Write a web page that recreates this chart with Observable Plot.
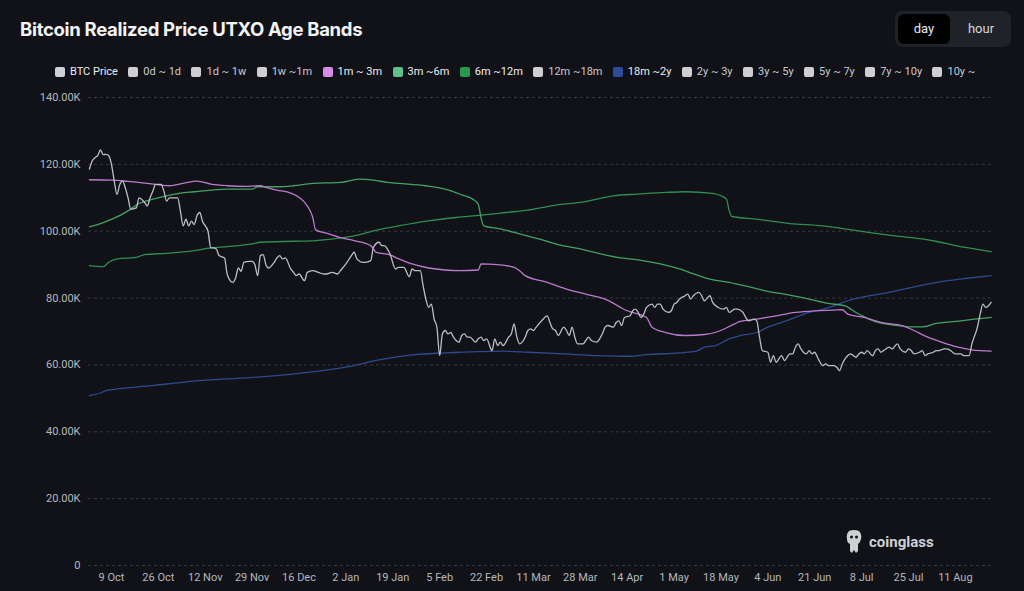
<!DOCTYPE html>
<html><head><meta charset="utf-8">
<script src="https://cdn.jsdelivr.net/npm/d3@7"></script>
<script src="https://cdn.jsdelivr.net/npm/@observablehq/plot@0.6"></script>
<style>
html,body{margin:0;padding:0;background:#101218;width:1024px;height:591px;overflow:hidden;font-family:Roboto,"Noto Sans",sans-serif;}
#wrap{position:relative;width:1024px;height:591px;}
#title{position:absolute;left:20px;top:18px;font:700 18.5px Inter,sans-serif;color:#f2f3f5;letter-spacing:-0.3px;white-space:nowrap}
#toggle{position:absolute;left:895px;top:11px;width:116px;height:36px;background:#1f2229;border-radius:8px}
#toggle .on{position:absolute;left:3px;top:3px;width:52px;height:30px;background:#000;border-radius:6px;color:#e9eaec;font:13px Roboto,sans-serif;line-height:30px;text-align:center}
#toggle .off{position:absolute;left:58px;top:3px;width:56px;height:30px;color:#d3d5d9;font:13px Roboto,sans-serif;line-height:30px;text-align:center}
#legend{position:absolute;left:55px;top:65px;display:flex;align-items:center;gap:10.4px;font:11px Roboto,sans-serif;white-space:nowrap}
#legend .it{display:flex;align-items:center}
#legend .sw{width:10px;height:10px;border-radius:2px;margin-right:5px}
#chart{position:absolute;left:0;top:85px}
#wm{position:absolute;left:845px;top:529px;display:flex;align-items:center;gap:6px;color:#cfd0d4;font:700 15px Roboto,sans-serif}
</style></head>
<body><div id="wrap">
<div id="title">Bitcoin Realized Price UTXO Age Bands</div>
<div id="toggle"><div class="on">day</div><div class="off">hour</div></div>
<div id="legend"></div>
<div id="chart"></div>
<div id="wm"><svg width="18" height="26" viewBox="0 0 18 26"><path d="M4 2 Q9 0 14 2 Q17 5 16 10 Q15 14 13 15 L13 22 L11 24 L9 21 L7 24 L5 22 L5 15 Q2 14 2 10 Q1 5 4 2 Z" fill="#cfd0d4"/><circle cx="6.5" cy="8" r="1.5" fill="#101218"/><circle cx="11.5" cy="8" r="1.5" fill="#101218"/></svg><span>coinglass</span></div>
</div>
<script>
// ---- legend ----
const legendNames = ["BTC Price","0d ~ 1d","1d ~ 1w","1w ~1m","1m ~ 3m","3m ~6m","6m ~12m","12m ~18m","18m ~2y","2y ~ 3y","3y ~ 5y","5y ~ 7y","7y ~ 10y","10y ~"];
const legendColors = ["#cdd0d6","#cfcfd2","#cfcfd2","#cfcfd2","#d58be8","#5ec18e","#25994f","#cfcfd2","#2c4c9c","#cfcfd2","#cfcfd2","#cfcfd2","#cfcfd2","#cfcfd2"];
const legendActive = [true,false,false,false,true,true,true,false,true,false,false,false,false,false];

// ---- axis ticks ----
const xTickDates = ["2025-10-09","2025-10-26","2025-11-12","2025-11-29","2025-12-16","2026-01-02","2026-01-19","2026-02-05","2026-02-22","2026-03-11","2026-03-28","2026-04-14","2026-05-01","2026-05-18","2026-06-04","2026-06-21","2026-07-08","2026-07-25","2026-08-11"];
const yTicks = [0,20,40,60,80,100,120,140]; // thousands USD

// ---- series (values in thousands USD) ----
const btcPrice = [
["2025-10-01",118.6],["2025-10-02",121.0],["2025-10-03",122.0],["2025-10-04",122.6],["2025-10-05",124.3],["2025-10-06",122.9],["2025-10-07",123.0],["2025-10-08",122.6],["2025-10-09",120.0],["2025-10-10",115],["2025-10-11",111],["2025-10-12",114],["2025-10-13",115],["2025-10-14",113],["2025-10-15",110],["2025-10-16",106.6],["2025-10-18",107],["2025-10-19",110],["2025-10-21",108.6],["2025-10-22",107.6],["2025-10-23",110],["2025-10-24",112],["2025-10-25",114],["2025-10-27",114],["2025-10-28",112],["2025-10-29",109],["2025-10-30",110],
["2025-11-01",110],["2025-11-02",110],["2025-11-03",106],["2025-11-04",101.6],["2025-11-05",103.6],["2025-11-06",101.6],["2025-11-07",103],["2025-11-08",102],["2025-11-09",104.6],["2025-11-10",105.6],["2025-11-11",103],["2025-11-13",100],["2025-11-14",95],["2025-11-15",95],["2025-11-16",94.7],["2025-11-17",92.7],["2025-11-19",92],["2025-11-20",87],["2025-11-22",84.7],["2025-11-23",86],["2025-11-24",89],["2025-11-25",88],["2025-11-26",90.7],["2025-11-28",91],["2025-11-29",91],["2025-11-30",90],
["2025-12-01",86.7],["2025-12-02",92.7],["2025-12-03",93],["2025-12-04",90],["2025-12-05",89],["2025-12-07",90.7],["2025-12-08",92],["2025-12-09",92.7],["2025-12-10",91.7],["2025-12-11",92],["2025-12-13",88.7],["2025-12-14",87.7],["2025-12-15",86.7],["2025-12-16",87.2],["2025-12-18",85.2],["2025-12-19",87.7],["2025-12-21",88.2],["2025-12-23",87.7],["2025-12-25",87.2],["2025-12-26",87.2],["2025-12-28",87.7],["2025-12-30",87.2],["2025-12-31",88.2],
["2026-01-02",90.2],["2026-01-04",92.7],["2026-01-05",93.7],["2026-01-06",91.7],["2026-01-08",90.7],["2026-01-09",90.7],["2026-01-11",91.2],["2026-01-12",95.2],["2026-01-14",96.7],["2026-01-15",95.7],["2026-01-16",95.7],["2026-01-17",94.7],["2026-01-18",93.2],["2026-01-20",88.7],["2026-01-21",89.2],["2026-01-23",89.2],["2026-01-25",86.4],["2026-01-26",88.7],["2026-01-27",88.2],["2026-01-29",88.2],["2026-01-30",83.7],["2026-01-31",79.7],
["2026-02-01",77.2],["2026-02-02",78.2],["2026-02-03",73.7],["2026-02-04",71.3],["2026-02-05",62.8],["2026-02-06",69.3],["2026-02-07",70.3],["2026-02-08",69.3],["2026-02-09",69.7],["2026-02-10",68.3],["2026-02-12",66.8],["2026-02-13",68.8],["2026-02-14",69.3],["2026-02-15",68.3],["2026-02-16",68.3],["2026-02-18",66.8],["2026-02-19",67.8],["2026-02-20",68.3],["2026-02-21",67.3],["2026-02-22",67.8],["2026-02-24",64.3],["2026-02-25",67.8],["2026-02-26",65.8],["2026-02-27",66.8],["2026-02-28",65.8],
["2026-03-02",68.3],["2026-03-03",69.3],["2026-03-04",72.3],["2026-03-05",68.3],["2026-03-06",66.3],["2026-03-08",68.3],["2026-03-09",70.3],["2026-03-10",70.8],["2026-03-11",70.3],["2026-03-12",71.3],["2026-03-14",73.2],["2026-03-16",74.7],["2026-03-17",72.7],["2026-03-18",70.8],["2026-03-19",70.3],["2026-03-20",68.8],["2026-03-22",71.3],["2026-03-23",70.3],["2026-03-24",68.8],["2026-03-25",71.3],["2026-03-26",68.3],["2026-03-27",66.3],["2026-03-29",66.3],["2026-03-30",67.3],["2026-03-31",68.3],
["2026-04-01",67.3],["2026-04-03",66.8],["2026-04-04",67.8],["2026-04-05",69.3],["2026-04-06",71.3],["2026-04-07",71.8],["2026-04-09",71.3],["2026-04-10",72.7],["2026-04-11",73.2],["2026-04-12",71.8],["2026-04-13",74.2],["2026-04-15",74.7],["2026-04-16",76.2],["2026-04-17",76.7],["2026-04-18",75.7],["2026-04-19",74.2],["2026-04-20",75.2],["2026-04-21",77.2],["2026-04-23",78.2],["2026-04-24",77.2],["2026-04-25",78.2],["2026-04-26",78.2],["2026-04-27",76.7],["2026-04-29",75.7],["2026-04-30",76.2],
["2026-05-01",78.2],["2026-05-02",78.7],["2026-05-03",79.7],["2026-05-05",80.7],["2026-05-06",81.2],["2026-05-07",79.7],["2026-05-08",80.7],["2026-05-10",81.7],["2026-05-11",80.7],["2026-05-12",79.2],["2026-05-14",80.7],["2026-05-15",78.7],["2026-05-17",77.2],["2026-05-19",76.7],["2026-05-20",77.2],["2026-05-21",75.7],["2026-05-23",76.7],["2026-05-24",76.7],["2026-05-26",75.7],["2026-05-27",74.2],["2026-05-28",73.2],["2026-05-30",73.7],["2026-05-31",73.2],
["2026-06-01",68.3],["2026-06-02",64.3],["2026-06-04",63.8],["2026-06-05",60.8],["2026-06-06",62.8],["2026-06-07",60.8],["2026-06-09",62.8],["2026-06-10",61.3],["2026-06-12",63.3],["2026-06-13",63.3],["2026-06-14",65.3],["2026-06-15",66.3],["2026-06-16",64.8],["2026-06-18",63.3],["2026-06-19",64.3],["2026-06-20",63.3],["2026-06-21",63.8],["2026-06-22",62.3],["2026-06-24",59.8],["2026-06-25",60.3],["2026-06-26",59.8],["2026-06-28",59.8],["2026-06-29",59.3],["2026-06-30",58.3],
["2026-07-01",60.3],["2026-07-02",61.8],["2026-07-03",62.8],["2026-07-04",63.3],["2026-07-06",62.3],["2026-07-07",63.3],["2026-07-08",63.8],["2026-07-09",63.3],["2026-07-10",64.3],["2026-07-12",62.8],["2026-07-13",64.3],["2026-07-14",64.8],["2026-07-15",63.8],["2026-07-16",64.3],["2026-07-18",65.3],["2026-07-19",64.8],["2026-07-21",66.3],["2026-07-22",64.8],["2026-07-24",63.8],["2026-07-25",64.8],["2026-07-26",64.3],["2026-07-27",63.3],["2026-07-29",63.8],["2026-07-30",64.3],["2026-07-31",62.8],
["2026-08-01",63.3],["2026-08-03",63.8],["2026-08-04",64.3],["2026-08-05",64.3],["2026-08-07",64.8],["2026-08-08",64.8],["2026-08-10",63.8],["2026-08-11",63.3],["2026-08-13",63.3],["2026-08-14",62.8],["2026-08-16",62.8],["2026-08-17",66.3],["2026-08-19",71.3],["2026-08-20",75.2],["2026-08-21",78.2],["2026-08-22",77.2],["2026-08-23",77.7],["2026-08-24",78.7]
];

const band1m3m = [
["2025-10-01",115.4],["2025-10-09",115.3],["2025-10-15",114.9],["2025-10-21",114.4],["2025-10-27",113.8],["2025-10-30",113.6],["2025-11-04",114.3],["2025-11-09",115.0],["2025-11-14",114.1],["2025-11-20",113.6],["2025-11-26",113.4],["2025-12-02",113.6],["2025-12-04",113.1],["2025-12-08",112.3],["2025-12-13",111.4],["2025-12-16",110.1],["2025-12-19",107.6],["2025-12-21",104.1],["2025-12-22",100.4],["2025-12-26",99.4],["2025-12-31",98.1],["2026-01-05",97.2],["2026-01-11",95.7],["2026-01-13",93.7],["2026-01-18",92.9],["2026-01-21",91.8],["2026-01-26",90.2],["2026-02-01",89.0],["2026-02-07",88.4],["2026-02-12",88.2],["2026-02-19",88.4],["2026-02-20",90.2],["2026-02-26",90.0],["2026-03-04",89.2],["2026-03-06",88.2],["2026-03-08",86.7],["2026-03-16",84.7],["2026-03-23",82.7],["2026-03-30",81.2],["2026-04-06",79.7],["2026-04-14",76.2],["2026-04-21",74.2],["2026-04-23",71.3],["2026-04-28",69.7],["2026-05-05",68.8],["2026-05-12",69.1],["2026-05-17",70.0],["2026-05-23",72.3],["2026-05-25",73.0],["2026-05-31",73.7],["2026-06-07",74.7],["2026-06-14",75.7],["2026-06-21",76.2],["2026-06-28",76.4],["2026-07-01",76.5],["2026-07-03",75.2],["2026-07-09",74.2],["2026-07-15",72.7],["2026-07-23",71.7],["2026-07-27",70.3],["2026-08-01",68.3],["2026-08-06",66.8],["2026-08-12",65.3],["2026-08-17",64.5],["2026-08-24",64.1]
];

const band3m6m = [
["2025-10-01",101.3],["2025-10-06",102.6],["2025-10-10",103.9],["2025-10-15",106.1],["2025-10-19",108.3],["2025-10-24",109.6],["2025-10-29",110.6],["2025-11-03",111.4],["2025-11-08",111.8],["2025-11-14",112.3],["2025-11-20",112.6],["2025-11-29",112.6],["2025-12-01",113.3],["2025-12-08",113.3],["2025-12-14",113.6],["2025-12-21",114.3],["2025-12-31",114.6],["2026-01-07",115.6],["2026-01-12",115.3],["2026-01-17",114.6],["2026-01-21",114.3],["2026-01-31",113.6],["2026-02-07",112.6],["2026-02-13",110.9],["2026-02-17",109.6],["2026-02-19",108.1],["2026-02-20",104.1],["2026-02-21",101.6],["2026-02-27",100.7],["2026-03-06",99.2],["2026-03-13",97.7],["2026-03-20",96.0],["2026-03-28",94.7],["2026-04-04",93.3],["2026-04-11",92.1],["2026-04-18",91.4],["2026-04-26",90.2],["2026-05-03",88.7],["2026-05-10",86.7],["2026-05-14",85.7],["2026-05-21",84.7],["2026-05-28",83.4],["2026-06-04",82.0],["2026-06-12",80.9],["2026-06-19",79.7],["2026-06-26",78.4],["2026-07-02",77.7],["2026-07-06",75.7],["2026-07-09",74.4],["2026-07-14",72.7],["2026-07-19",72.0],["2026-07-25",71.4],["2026-07-30",71.4],["2026-08-04",72.4],["2026-08-11",73.0],["2026-08-18",73.7],["2026-08-24",74.2]
];

const band6m12m = [
["2025-10-01",89.7],["2025-10-06",89.4],["2025-10-08",90.7],["2025-10-11",91.7],["2025-10-18",92.2],["2025-10-21",93.0],["2025-10-29",93.4],["2025-11-08",94.2],["2025-11-14",95.0],["2025-11-20",95.4],["2025-11-29",96.2],["2025-12-02",96.7],["2025-12-14",97.0],["2025-12-22",97.2],["2026-01-01",98.1],["2026-01-07",99.0],["2026-01-12",100.1],["2026-01-17",101.0],["2026-01-21",101.6],["2026-02-01",103.1],["2026-02-11",104.1],["2026-02-20",104.8],["2026-03-01",105.6],["2026-03-09",106.3],["2026-03-19",107.8],["2026-03-28",108.6],["2026-04-03",109.6],["2026-04-09",110.6],["2026-04-18",111.1],["2026-04-28",111.6],["2026-05-05",111.8],["2026-05-15",111.3],["2026-05-18",110.6],["2026-05-20",109.6],["2026-05-21",106.1],["2026-05-22",104.4],["2026-05-31",103.6],["2026-06-12",102.3],["2026-06-24",101.6],["2026-07-01",100.8],["2026-07-11",99.6],["2026-07-20",98.6],["2026-07-30",97.7],["2026-08-04",97.0],["2026-08-11",95.7],["2026-08-18",94.7],["2026-08-24",93.9]
];

const band18m2y = [
["2025-10-01",50.8],["2025-10-05",51.6],["2025-10-07",52.3],["2025-10-17",53.3],["2025-10-29",54.3],["2025-11-10",55.3],["2025-11-28",56.2],["2025-12-16",57.5],["2026-01-03",59.5],["2026-01-14",61.5],["2026-01-26",63.0],["2026-02-07",63.6],["2026-02-19",64.0],["2026-02-28",64.1],["2026-03-09",63.8],["2026-03-22",63.3],["2026-04-03",62.8],["2026-04-15",62.6],["2026-04-21",63.1],["2026-05-03",63.6],["2026-05-09",64.1],["2026-05-12",65.3],["2026-05-16",65.8],["2026-05-21",67.8],["2026-05-25",68.8],["2026-05-31",69.7],["2026-06-04",71.3],["2026-06-09",72.7],["2026-06-14",74.2],["2026-06-19",75.7],["2026-06-24",76.7],["2026-06-28",77.7],["2026-07-03",79.2],["2026-07-11",80.7],["2026-07-18",81.7],["2026-07-25",83.0],["2026-08-01",84.2],["2026-08-08",85.2],["2026-08-16",86.0],["2026-08-24",86.7]
];

// ---- build ----
const leg = document.getElementById("legend");
legendNames.forEach((n,i)=>{
  const it = document.createElement("div"); it.className="it";
  const sw = document.createElement("span"); sw.className="sw"; sw.style.background=legendColors[i];
  const tx = document.createElement("span"); tx.textContent=n; tx.style.color = legendActive[i] ? "#eceef1" : "#c9cbd0";
  it.appendChild(sw); it.appendChild(tx); leg.appendChild(it);
});

const toRows = arr => arr.map(([d,v]) => ({date:new Date(d+"T00:00:00Z"), v}));
const xTicks = xTickDates.map(d => new Date(d+"T00:00:00Z"));

const chart = Plot.plot({
  width:1024, height:506,
  marginLeft:88, marginRight:31, marginTop:12, marginBottom:26,
  style:{background:"transparent", color:"#b4b7be", fontSize:"11px", fontFamily:"Roboto, sans-serif"},
  x:{type:"utc", domain:[new Date("2025-09-30T16:00:00Z"), new Date("2026-08-24T20:00:00Z")], ticks:xTicks, tickFormat:d3.utcFormat("%-d %b"), tickSize:0, tickPadding:8, label:null},
  y:{domain:[0,140], ticks:yTicks, tickFormat:d => d===0 ? "0" : d.toFixed(2)+"K", tickSize:0, tickPadding:8, label:null},
  marks:[
    Plot.gridY(yTicks, {stroke:"#363942", strokeOpacity:1, strokeDasharray:"3,3"}),
    Plot.line(toRows(band18m2y), {x:"date", y:"v", stroke:"#2d4a8c", strokeWidth:1.3, curve:"monotone-x"}),
    Plot.line(toRows(band6m12m), {x:"date", y:"v", stroke:"#2f8d52", strokeWidth:1.3, curve:"monotone-x"}),
    Plot.line(toRows(band3m6m), {x:"date", y:"v", stroke:"#44a065", strokeWidth:1.3, curve:"monotone-x"}),
    Plot.line(toRows(band1m3m), {x:"date", y:"v", stroke:"#ba7bcd", strokeWidth:1.3, curve:"monotone-x"}),
    Plot.line(toRows(btcPrice), {x:"date", y:"v", stroke:"#bdbec3", strokeWidth:1.3, curve:"monotone-x"})
  ]
});
document.getElementById("chart").appendChild(chart);
</script>
</body></html>
